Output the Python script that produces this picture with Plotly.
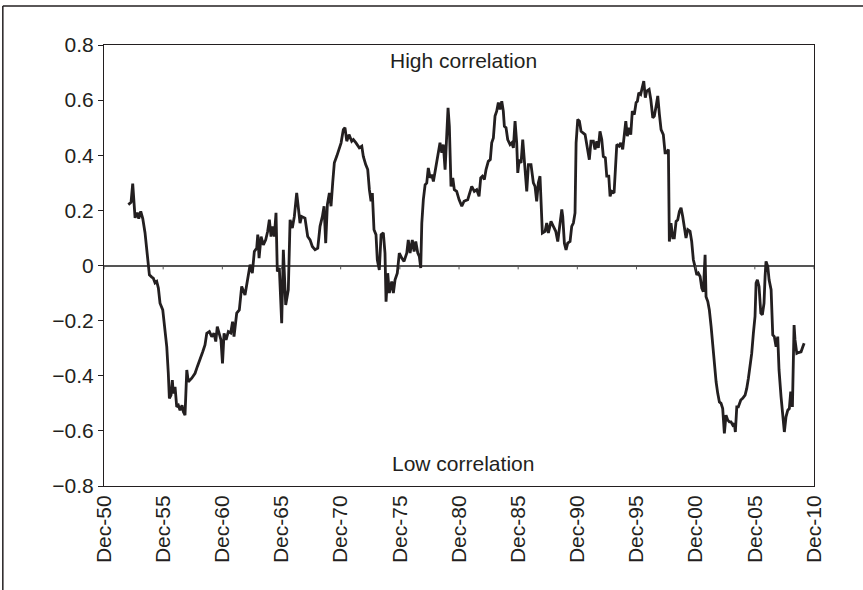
import datetime as dt
import plotly.graph_objects as go

# decimal years of each observation
years = [
    1952.97, 1953.20, 1953.34, 1953.45, 1953.54, 1953.73, 1953.85, 1954.02, 1954.19, 1954.38,
    1954.53, 1954.66, 1954.75, 1954.95, 1955.08, 1955.23, 1955.37, 1955.51, 1955.65, 1955.88,
    1956.07, 1956.22, 1956.35, 1956.44, 1956.58, 1956.69, 1956.77, 1956.92, 1957.06, 1957.20,
    1957.34, 1957.51, 1957.62, 1957.76, 1957.91, 1958.04, 1958.33, 1958.61, 1958.80, 1959.03,
    1959.26, 1959.45, 1959.60, 1959.82, 1960.02, 1960.21, 1960.36, 1960.49, 1960.66, 1960.80,
    1960.93, 1961.06, 1961.23, 1961.42, 1961.62, 1961.78, 1961.90, 1962.13, 1962.35, 1962.55,
    1962.83, 1963.11, 1963.26, 1963.45, 1963.62, 1963.82, 1963.91, 1964.02, 1964.19, 1964.38,
    1964.58, 1964.75, 1964.89, 1965.03, 1965.17, 1965.31, 1965.45, 1965.56, 1965.73, 1965.93,
    1966.07, 1966.27, 1966.49, 1966.64, 1966.83, 1967.00, 1967.20, 1967.34, 1967.48, 1967.62,
    1967.90, 1968.13, 1968.33, 1968.52, 1968.75, 1968.98, 1969.17, 1969.37, 1969.51, 1969.65,
    1969.79, 1969.96, 1970.10, 1970.24, 1970.38, 1970.58, 1970.78, 1970.95, 1971.14, 1971.28,
    1971.43, 1971.62, 1971.85, 1971.99, 1972.21, 1972.49, 1972.70, 1972.83, 1973.03, 1973.20,
    1973.34, 1973.48, 1973.59, 1973.73, 1973.90, 1974.01, 1974.18, 1974.33, 1974.52, 1974.66,
    1974.75, 1974.89, 1975.03, 1975.23, 1975.37, 1975.51, 1975.70, 1975.87, 1976.08, 1976.27,
    1976.50, 1976.63, 1976.78, 1976.97, 1977.12, 1977.26, 1977.43, 1977.56, 1977.68, 1977.77,
    1977.90, 1978.05, 1978.19, 1978.32, 1978.47, 1978.61, 1978.75, 1978.97, 1979.17, 1979.31,
    1979.46, 1979.59, 1979.74, 1979.88, 1979.99, 1980.10, 1980.24, 1980.39, 1980.52, 1980.72,
    1980.92, 1981.15, 1981.34, 1981.65, 1981.85, 1981.99, 1982.21, 1982.41, 1982.61, 1982.75,
    1982.89, 1983.06, 1983.20, 1983.39, 1983.56, 1983.68, 1983.82, 1983.96, 1984.10, 1984.24,
    1984.38, 1984.53, 1984.66, 1984.75, 1984.89, 1985.03, 1985.23, 1985.37, 1985.51, 1985.65,
    1985.79, 1985.88, 1986.01, 1986.16, 1986.30, 1986.50, 1986.64, 1986.78, 1987.00, 1987.20,
    1987.34, 1987.48, 1987.62, 1987.76, 1987.85, 1987.96, 1988.19, 1988.33, 1988.47, 1988.69,
    1988.89, 1989.09, 1989.26, 1989.45, 1989.60, 1989.68, 1989.82, 1989.96, 1990.10, 1990.30,
    1990.44, 1990.58, 1990.72, 1990.81, 1990.95, 1991.09, 1991.23, 1991.57, 1991.76, 1991.93,
    1992.07, 1992.27, 1992.41, 1992.56, 1992.69, 1992.83, 1992.98, 1993.11, 1993.28, 1993.40,
    1993.57, 1993.68, 1993.82, 1994.02, 1994.13, 1994.25, 1994.44, 1994.58, 1994.75, 1994.86,
    1995.01, 1995.14, 1995.29, 1995.43, 1995.56, 1995.73, 1995.88, 1995.99, 1996.11, 1996.27,
    1996.41, 1996.53, 1996.66, 1996.78, 1996.98, 1997.12, 1997.29, 1997.42, 1997.57, 1997.71,
    1997.85, 1997.99, 1998.18, 1998.33, 1998.47, 1998.61, 1998.69, 1998.83, 1998.98, 1999.11,
    1999.26, 1999.40, 1999.54, 1999.68, 1999.82, 1999.96, 2000.10, 2000.25, 2000.44, 2000.58,
    2000.72, 2000.86, 2001.01, 2001.14, 2001.29, 2001.43, 2001.56, 2001.71, 2001.79, 2001.94,
    2002.07, 2002.22, 2002.36, 2002.49, 2002.64, 2002.78, 2002.92, 2003.06, 2003.20, 2003.34,
    2003.48, 2003.63, 2003.76, 2003.90, 2004.05, 2004.18, 2004.27, 2004.39, 2004.52, 2004.73,
    2004.89, 2005.09, 2005.23, 2005.37, 2005.51, 2005.65, 2005.79, 2005.93, 2006.02, 2006.13,
    2006.27, 2006.42, 2006.55, 2006.69, 2006.78, 2006.86, 2007.01, 2007.12, 2007.29, 2007.43,
    2007.56, 2007.71, 2007.85, 2007.96, 2008.13, 2008.28, 2008.41, 2008.55, 2008.70, 2008.83,
    2008.95, 2009.09, 2009.23, 2009.31, 2009.46, 2009.59, 2009.82, 2009.97, 2010.08,
]

correlation = [
    0.221, 0.229, 0.297, 0.203, 0.173, 0.192, 0.170, 0.196, 0.170, 0.119,
    0.057, 0.010, -0.034, -0.042, -0.046, -0.063, -0.058, -0.082, -0.137, -0.161,
    -0.246, -0.295, -0.391, -0.482, -0.470, -0.416, -0.464, -0.440, -0.513, -0.507,
    -0.525, -0.507, -0.531, -0.543, -0.379, -0.422, -0.409, -0.391, -0.367, -0.343,
    -0.313, -0.288, -0.246, -0.240, -0.258, -0.246, -0.276, -0.222, -0.246, -0.270,
    -0.355, -0.246, -0.270, -0.240, -0.245, -0.204, -0.258, -0.173, -0.161, -0.076,
    -0.107, -0.040, 0.003, -0.028, 0.051, 0.063, 0.112, 0.027, 0.105, 0.075,
    0.093, 0.124, 0.166, 0.105, 0.142, 0.105, 0.191, -0.022, -0.009, -0.209,
    0.057, -0.143, -0.088, 0.166, 0.136, 0.178, 0.263, 0.209, 0.154, 0.178,
    0.172, 0.105, 0.093, 0.069, 0.057, 0.063, 0.142, 0.178, 0.215, 0.081,
    0.221, 0.263, 0.215, 0.300, 0.373, 0.396, 0.421, 0.445, 0.493, 0.500,
    0.451, 0.475, 0.451, 0.457, 0.445, 0.427, 0.433, 0.396, 0.366, 0.348,
    0.275, 0.233, 0.263, 0.130, 0.112, 0.021, -0.016, 0.112, 0.118, 0.045,
    -0.131, -0.028, -0.100, -0.058, -0.100, -0.052, -0.028, 0.045, 0.027, 0.015,
    0.045, 0.093, 0.045, 0.093, 0.051, 0.087, 0.045, 0.033, -0.009, 0.154,
    0.239, 0.293, 0.300, 0.354, 0.318, 0.330, 0.305, 0.360, 0.421, 0.445,
    0.409, 0.439, 0.348, 0.505, 0.572, 0.505, 0.287, 0.318, 0.275, 0.269,
    0.239, 0.215, 0.233, 0.239, 0.269, 0.287, 0.269, 0.275, 0.251, 0.318,
    0.324, 0.312, 0.348, 0.378, 0.384, 0.445, 0.463, 0.542, 0.560, 0.591,
    0.566, 0.596, 0.560, 0.505, 0.500, 0.457, 0.439, 0.445, 0.427, 0.524,
    0.445, 0.336, 0.384, 0.372, 0.457, 0.354, 0.269, 0.366, 0.366, 0.300,
    0.287, 0.233, 0.300, 0.324, 0.239, 0.118, 0.124, 0.154, 0.118, 0.160,
    0.142, 0.124, 0.087, 0.142, 0.203, 0.178, 0.081, 0.057, 0.081, 0.087,
    0.142, 0.154, 0.191, 0.445, 0.530, 0.524, 0.487, 0.475, 0.433, 0.384,
    0.451, 0.451, 0.421, 0.451, 0.427, 0.487, 0.457, 0.396, 0.391, 0.324,
    0.324, 0.251, 0.269, 0.263, 0.348, 0.439, 0.433, 0.445, 0.421, 0.475,
    0.524, 0.469, 0.500, 0.475, 0.560, 0.548, 0.591, 0.596, 0.627, 0.621,
    0.651, 0.669, 0.609, 0.633, 0.639, 0.603, 0.536, 0.542, 0.578, 0.615,
    0.548, 0.493, 0.475, 0.409, 0.409, 0.421, 0.087, 0.154, 0.100, 0.100,
    0.160, 0.166, 0.196, 0.209, 0.178, 0.142, 0.100, 0.130, 0.124, 0.087,
    0.021, -0.004, -0.034, -0.028, -0.040, -0.082, -0.095, 0.039, -0.113, -0.131,
    -0.161, -0.222, -0.295, -0.355, -0.422, -0.464, -0.495, -0.500, -0.519, -0.609,
    -0.543, -0.561, -0.567, -0.567, -0.579, -0.573, -0.604, -0.513, -0.513, -0.488,
    -0.482, -0.470, -0.446, -0.409, -0.361, -0.319, -0.246, -0.185, -0.064, -0.052,
    -0.076, -0.173, -0.179, -0.137, -0.040, 0.015, -0.004, -0.052, -0.088, -0.252,
    -0.258, -0.295, -0.258, -0.379, -0.476, -0.549, -0.604, -0.549, -0.525, -0.519,
    -0.458, -0.513, -0.216, -0.270, -0.319, -0.316, -0.313, -0.295, -0.282,
]

tick_years = [1950, 1955, 1960, 1965, 1970, 1975, 1980, 1985, 1990, 1995, 2000, 2005, 2010]
tick_labels = ["Dec-50", "Dec-55", "Dec-60", "Dec-65", "Dec-70", "Dec-75", "Dec-80",
               "Dec-85", "Dec-90", "Dec-95", "Dec-00", "Dec-05", "Dec-10"]
y_ticks = [0.8, 0.6, 0.4, 0.2, 0, -0.2, -0.4, -0.6, -0.8]
y_labels = ["0.8", "0.6", "0.4", "0.2", "0", "\u22120.2", "\u22120.4", "\u22120.6", "\u22120.8"]
notes = ["High correlation", "Low correlation"]


def to_date(y):
    yr = int(y)
    return dt.datetime(yr, 1, 1) + dt.timedelta(days=(y - yr) * 365.25)


dates = [to_date(y) for y in years]
tick_dates = [dt.datetime(y, 12, 1) for y in tick_years]

FONT = "Liberation Sans, Arial, Helvetica, sans-serif"
TXT = "#231f20"
FS = 21

fig = go.Figure()
fig.add_trace(go.Scatter(
    x=dates, y=correlation, mode="lines",
    line=dict(color="#231f20", width=2.8), hoverinfo="skip", showlegend=False,
))

shapes = []
# tiny tick marks hanging below the zero line (category axis crosses at 0)
for d in tick_dates:
    shapes.append(dict(type="line", xref="x", yref="y", x0=d, x1=d, y0=0, y1=-0.014,
                       line=dict(color="#555555", width=1)))
# outer chart frame (top and left edges)
shapes.append(dict(type="line", xref="paper", yref="paper", x0=-0.1425, x1=1.2,
                   y0=1.0885, y1=1.0885, line=dict(color="#231f20", width=1.5)))
shapes.append(dict(type="line", xref="paper", yref="paper", x0=-0.1425, x1=-0.1425,
                   y0=-0.3, y1=1.0885, line=dict(color="#231f20", width=1.5)))

fig.update_layout(
    width=863, height=590,
    margin=dict(l=104, r=49, t=45, b=104),
    paper_bgcolor="white", plot_bgcolor="white",
    font=dict(family=FONT, size=FS, color=TXT),
    shapes=shapes,
    annotations=[
        dict(text=notes[0], xref="paper", yref="y", x=0.506, y=0.745,
             showarrow=False, font=dict(size=FS, color=TXT)),
        dict(text=notes[1], xref="paper", yref="y", x=0.506, y=-0.72,
             showarrow=False, font=dict(size=FS, color=TXT)),
    ],
)
fig.update_xaxes(
    type="date", range=[tick_dates[0], tick_dates[-1]],
    tickvals=tick_dates, ticktext=tick_labels, tickangle=-90,
    ticks="", showgrid=False, zeroline=False,
    showline=True, linecolor="#231f20", linewidth=1, mirror=True,
    tickfont=dict(size=FS, color=TXT),
)
fig.update_yaxes(
    range=[-0.8, 0.8], tickvals=y_ticks, ticktext=y_labels,
    ticks="outside", ticklen=5, tickcolor="#231f20", tickwidth=1,
    showgrid=False, zeroline=True, zerolinecolor="#555555", zerolinewidth=1.5,
    showline=True, linecolor="#231f20", linewidth=1, mirror=True,
    tickfont=dict(size=FS, color=TXT),
)

# remove the page's default 8px body margin so the figure fills the window
fig.write_html(
    "out.html",
    config={"displayModeBar": False},
    post_script="document.body.style.margin='0';document.body.style.overflow='hidden';",
)
